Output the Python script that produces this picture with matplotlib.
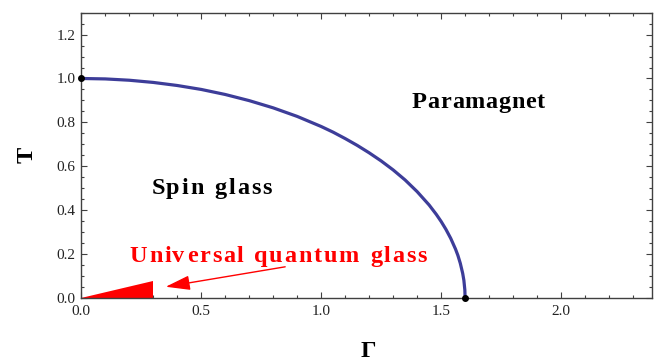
import matplotlib
matplotlib.use("Agg")
import matplotlib.pyplot as plt
from matplotlib.ticker import MultipleLocator, FormatStrFormatter
from matplotlib import font_manager, ft2font
from matplotlib.transforms import offset_copy

# Phase boundary
gamma = [0.0, 0.1, 0.2, 0.3, 0.4, 0.5, 0.6, 0.7, 0.8, 0.9, 1.0, 1.05, 1.1, 1.15,
         1.2, 1.25, 1.3, 1.35, 1.4, 1.45, 1.48, 1.5, 1.52, 1.54, 1.56, 1.57,
         1.58, 1.59, 1.595, 1.599, 1.6]
temp = [1.0, 0.998, 0.992, 0.982, 0.968, 0.950, 0.927, 0.899, 0.866, 0.827, 0.781,
        0.755, 0.726, 0.695, 0.661, 0.624, 0.583, 0.537, 0.484, 0.423, 0.380,
        0.348, 0.312, 0.271, 0.222, 0.193, 0.157, 0.111, 0.079, 0.035, 0.0]

# End points (black dots)
dot_gamma = [0.0, 1.6]
dot_temp = [1.0, 0.0]

# Universal quantum glass wedge
wedge_gamma = [0.0, 0.3, 0.3]
wedge_temp = [0.0, 0.0, 0.075]

# Arrow (tail -> head)
arrow_tail = (0.85, 0.141)
arrow_head = (0.352, 0.05)

region_labels = ["Spin glass", "Paramagnet", "Universal quantum glass"]
region_left = [0.293, 1.378, 0.202]      # data x of text start
region_right = [0.790, 1.928, 1.435]     # data x of text end
region_base = [0.471, 0.865, 0.162]      # data y of baseline
region_colors = ["black", "black", "red"]

x_ticks = [0.0, 0.5, 1.0, 1.5, 2.0]
y_ticks = [0.0, 0.2, 0.4, 0.6, 0.8, 1.0, 1.2]

plt.rcParams['font.family'] = ['Liberation Serif', 'DejaVu Serif']

DPI = 100
fig = plt.figure(figsize=(6.54, 3.60), dpi=DPI)
ax = fig.add_axes([0.1243, 0.173, 0.9965 - 0.1243, 0.9647 - 0.173])

ax.plot(gamma, temp, color='#3d3d99', lw=2.3, solid_joinstyle='round', zorder=3)
ax.scatter(dot_gamma, dot_temp, s=16, color='black', zorder=4, clip_on=False)
ax.fill(wedge_gamma, wedge_temp, color='red', lw=0, zorder=2)

ax.annotate('', xy=arrow_head, xytext=arrow_tail,
            arrowprops=dict(arrowstyle='-|>,head_length=1.5,head_width=0.45',
                            color='red', lw=1.0, shrinkA=0, shrinkB=0))

ax.set_xlim(0, 2.378)
ax.set_ylim(0, 1.3)

# tracked (letter-spaced) labels
fp = font_manager.FontProperties(family='Liberation Serif', weight='bold')
font_path = font_manager.findfont(fp)
SIZE = 17.5
WORD_GAP = 12.0  # px between words (ink to ink)
ftf = ft2font.FT2Font(font_path)
ftf.set_size(SIZE, DPI)


def glyph_info(c):
    g = ftf.load_char(ord(c))
    return g.linearHoriAdvance / 65536.0, g.horiBearingX / 64.0, g.width / 64.0


def draw_tracked(s, left, right, base, color):
    x0 = ax.transData.transform((left, base))[0]
    x1 = ax.transData.transform((right, base))[0]
    target = x1 - x0
    words = s.split(' ')
    nat = 0.0
    n_in = 0
    for w in words:
        for i, c in enumerate(w):
            adv, lsb, wid = glyph_info(c)
            if i == len(w) - 1:
                nat += lsb + wid
            else:
                nat += adv
        nat -= glyph_info(w[0])[1]
        n_in += len(w) - 1
    track = (target - nat - WORD_GAP * (len(words) - 1)) / max(n_in, 1)
    pos = 0.0
    for wi, w in enumerate(words):
        first_lsb = glyph_info(w[0])[1]
        wpos = pos - first_lsb
        for i, c in enumerate(w):
            adv, lsb, wid = glyph_info(c)
            tr = offset_copy(ax.transData, fig=fig, x=wpos + lsb, y=0, units='dots')
            ax.text(left, base, c, transform=tr, color=color, fontsize=SIZE,
                    fontweight='bold', ha='left', va='baseline',
                    family='Liberation Serif')
            if i == len(w) - 1:
                pos = wpos + lsb + wid + WORD_GAP
            else:
                wpos += adv + track


for lab, l, r, b, c in zip(region_labels, region_left, region_right,
                           region_base, region_colors):
    draw_tracked(lab, l, r, b, c)

ax.set_xticks(x_ticks)
ax.set_yticks(y_ticks)
ax.xaxis.set_major_formatter(FormatStrFormatter('%.1f'))
ax.yaxis.set_major_formatter(FormatStrFormatter('%.1f'))
ax.xaxis.set_minor_locator(MultipleLocator(0.1))
ax.yaxis.set_minor_locator(MultipleLocator(0.05))

frame_col = '#404040'
for s in ax.spines.values():
    s.set_color(frame_col)
    s.set_linewidth(1.0)
ax.tick_params(which='both', direction='in', top=True, right=True,
               color=frame_col, labelcolor='#222222', labelsize=11)
ax.tick_params(which='major', length=4.5, width=0.8)
ax.tick_params(which='minor', length=2.5, width=0.8)
ax.tick_params(axis='x', pad=5)
ax.tick_params(axis='y', pad=4)

fig.text(0.041, 0.57, 'T', rotation=90, fontsize=17.5, fontweight='bold',
         ha='center', va='center')
fig.text(0.563, 0.053, 'Γ', fontsize=17.5, fontweight='bold',
         ha='center', va='top')

fig.savefig('out.png', dpi=DPI)
